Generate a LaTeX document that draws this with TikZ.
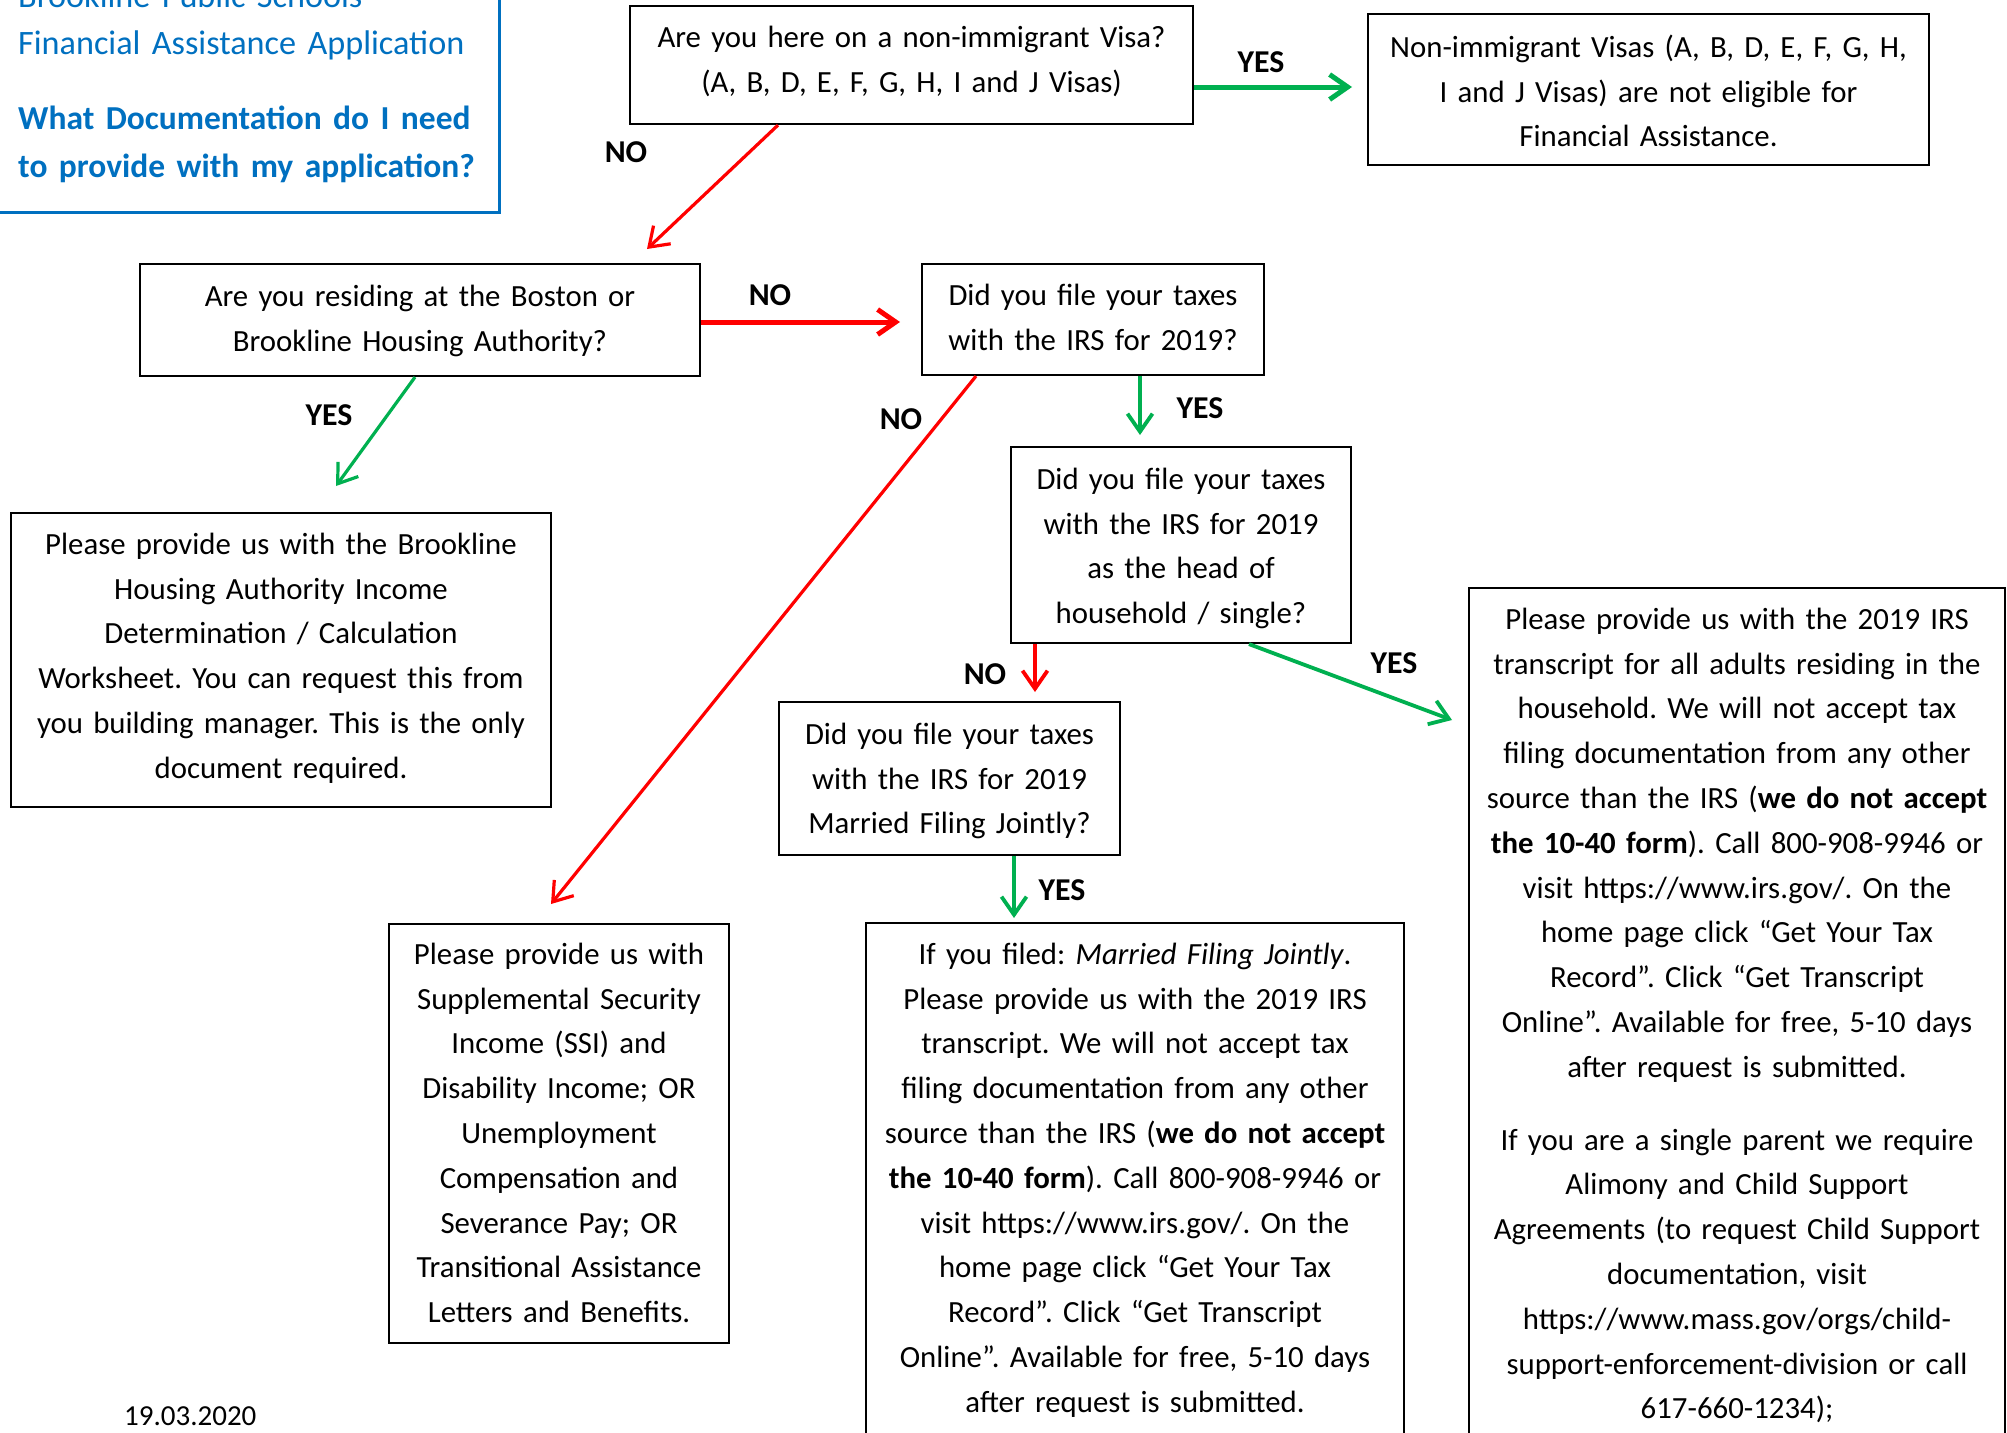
\documentclass[tikz,border=0pt]{standalone}
\usepackage{fontspec}
\setmainfont{Carlito}
\usetikzlibrary{arrows.meta}
\definecolor{tblue}{HTML}{0070C0}
\definecolor{tred}{HTML}{FF0000}
\definecolor{tgreen}{HTML}{00B050}
\newcommand{\firststrut}{\rule{0pt}{30pt}}
\frenchspacing
\tikzset{
  box/.style={draw=black, line width=2.2pt, inner sep=0pt},
  txt/.style={inner sep=0pt, align=center, anchor=north, font=\fontsize{30.8}{44.8}\selectfont},
  lab/.style={inner sep=0pt, font=\fontsize{31.8}{38}\selectfont\bfseries},
  arr/.style={-{Straight Barb[length=18pt,width=25pt]}},
  yesarr/.style={arr, draw=tgreen},
  noarr/.style={arr, draw=tred},
}
\begin{document}
\begin{tikzpicture}[x=1pt,y=-1pt]
\useasboundingbox (0,0) rectangle (2007,1432);
\fill[white] (0,0) rectangle (2007,1432);

% title
\node[draw=tblue, line width=3pt, inner sep=0pt, minimum width=509pt, minimum height=222pt] (titlebox) at (244.5,101) {};
\node[anchor=north west, inner sep=0pt, align=left, text width=480pt, text=tblue, font=\fontsize{34.2}{47.5}\selectfont] (title) at (18,-23)
 {\firststrut Brookline Public Schools\\ Financial Assistance Application\\[27.5pt] {\fontsize{33.5}{47.5}\selectfont\textbf{What Documentation do I need}}\\ {\fontsize{33.5}{47.5}\selectfont\textbf{to provide with my application?}}};

% boxes
\node[box, minimum width=563pt, minimum height=118pt] (b1) at (911.5,65) {};
\node[txt, text width=555pt] (b1t) at (911.5,17) {\firststrut Are you here on a non-immigrant Visa?\\ (A, B, D, E, F, G, H, I and J Visas)};

\node[box, minimum width=561pt, minimum height=151pt] (bn) at (1648.5,89.5) {};
\node[txt, text width=555pt] (bnt) at (1648.5,27) {\firststrut Non-immigrant Visas (A, B, D, E, F, G, H,\\ I and J Visas) are not eligible for\\ Financial Assistance.};

\node[box, minimum width=560pt, minimum height=112pt] (br) at (420,320) {};
\node[txt, text width=550pt] (brt) at (420,276) {\firststrut Are you residing at the Boston or\\ Brookline Housing Authority?};

\node[box, minimum width=342pt, minimum height=111pt] (bt) at (1093,319.5) {};
\node[txt, text width=336pt] (btt) at (1093,275) {\firststrut Did you file your taxes\\ with the IRS for 2019?};

\node[box, minimum width=540pt, minimum height=294pt] (bbha) at (281,660) {};
\node[txt, text width=536pt] (bbhat) at (281,524) {\firststrut Please provide us with the Brookline\\ Housing Authority Income\\ Determination / Calculation\\ Worksheet. You can request this from\\ you building manager. This is the only\\ document required.};

\node[box, minimum width=340pt, minimum height=196pt] (bh) at (1181,545) {};
\node[txt, text width=336pt] (bht) at (1181,459) {\firststrut Did you file your taxes\\ with the IRS for 2019\\ as the head of\\ household / single?};

\node[box, minimum width=341pt, minimum height=153pt] (bm) at (949.5,778.5) {};
\node[txt, text width=336pt] (bmt) at (949.5,714) {\firststrut Did you file your taxes\\ with the IRS for 2019\\ Married Filing Jointly?};

\node[box, minimum width=340pt, minimum height=419pt] (bssi) at (559,1133.5) {};
\node[txt, text width=336pt] (bssit) at (559,934) {\firststrut Please provide us with\\ Supplemental Security\\ Income (SSI) and\\ Disability Income; OR\\ Unemployment\\ Compensation and\\ Severance Pay; OR\\ Transitional Assistance\\ Letters and Benefits.};

\node[box, minimum width=538pt, minimum height=577pt] (bres) at (1135,1211.5) {};
\node[txt, text width=534pt] (brest) at (1135,934) {\firststrut If you filed: \textit{Married Filing Jointly}.\\ Please provide us with the 2019 IRS\\ transcript. We will not accept tax\\ filing documentation from any other\\ source than the IRS (\textbf{we do not accept}\\ \textbf{the 10-40 form}). Call 800-908-9946 or\\ visit https://www.irs.gov/. On the\\ home page click “Get Your Tax\\ Record”. Click “Get Transcript\\ Online”. Available for free, 5-10 days\\ after request is submitted.};

\node[box, minimum width=536pt, minimum height=912pt] (bright) at (1737,1044) {};
\node[txt, text width=532pt] (brightt) at (1737,599) {\firststrut Please provide us with the 2019 IRS\\ transcript for all adults residing in the\\ household. We will not accept tax\\ filing documentation from any other\\ source than the IRS (\textbf{we do not accept}\\ \textbf{the 10-40 form}). Call 800-908-9946 or\\ visit https://www.irs.gov/. On the\\ home page click “Get Your Tax\\ Record”. Click “Get Transcript\\ Online”. Available for free, 5-10 days\\ after request is submitted.\\[28pt] If you are a single parent we require\\ Alimony and Child Support\\ Agreements (to request Child Support\\ documentation, visit\\ https://www.mass.gov/orgs/child-\\ support-enforcement-division or call\\ 617-660-1234);};

% arrow tips
\coordinate (t1) at (1352,87);
\coordinate (t2) at (647,249);
\coordinate (t3) at (900,322);
\coordinate (t4) at (336,486);
\coordinate (t5) at (551,904);
\coordinate (t6) at (1140,435);
\coordinate (t7) at (1035,692);
\coordinate (t8) at (1452,720);
\coordinate (t9) at (1014,918);

\draw[yesarr, line width=5pt] ([yshift=-22pt]b1.east) -- (t1);
\draw[noarr, line width=3.2pt] ([xshift=-133.5pt]b1.south) -- (t2);
\draw[noarr, line width=5pt] ([yshift=-2pt]br.east) -- (t3);
\draw[yesarr, line width=3.2pt] ([xshift=-5pt]br.south) -- (t4);
\draw[noarr, line width=3.2pt] ([xshift=-117pt]bt.south) -- (t5);
\draw[yesarr, line width=3.8pt] ([xshift=47pt]bt.south) -- (t6);
\draw[noarr, line width=3.8pt] ([xshift=-146pt]bh.south) -- (t7);
\draw[yesarr, line width=3.8pt] ([xshift=68pt]bh.south) -- (t8);
\draw[yesarr, line width=3.8pt] ([xshift=64.5pt]bm.south) -- (t9);

% labels
\node[lab] (l1) at (1261,62) {YES};
\node[lab] (l2) at (626,152) {NO};
\node[lab] (l3) at (770,295) {NO};
\node[lab] (l4) at (329,415) {YES};
\node[lab] (l5) at (901,419) {NO};
\node[lab] (l6) at (1200,408) {YES};
\node[lab] (l7) at (985,674) {NO};
\node[lab] (l8) at (1394,663) {YES};
\node[lab] (l9) at (1062,890) {YES};

\node[anchor=base west, inner sep=0pt, font=\fontsize{29}{35}\selectfont] (date) at (124,1425) {19.03.2020};
\end{tikzpicture}
\end{document}
